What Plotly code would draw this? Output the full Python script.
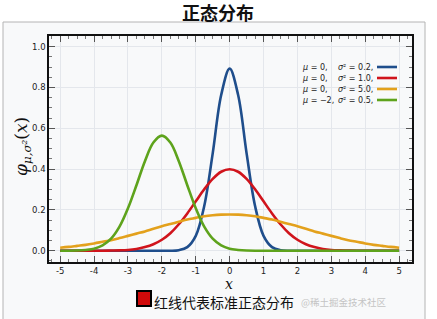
import plotly.graph_objects as go

# ---------------- data ----------------
x_vals = [-5.0, -4.75, -4.5, -4.25, -4.0, -3.75, -3.5, -3.25, -3.0, -2.75, -2.5, -2.25, -2.0,
          -1.75, -1.5, -1.25, -1.0, -0.75, -0.5, -0.25, 0.0, 0.25, 0.5, 0.75, 1.0, 1.25, 1.5,
          1.75, 2.0, 2.25, 2.5, 2.75, 3.0, 3.25, 3.5, 3.75, 4.0, 4.25, 4.5, 4.75, 5.0]

blue_vals = [0, 0, 0, 0, 0, 0, 0, 0, 0, 0, 0, 0, 0,
             0.000, 0.003, 0.018, 0.073, 0.219, 0.477, 0.763, 0.892, 0.763, 0.477, 0.219, 0.073, 0.018, 0.003,
             0.000, 0, 0, 0, 0, 0, 0, 0, 0, 0, 0, 0, 0, 0]

red_vals = [0, 0, 0, 0, 0.000, 0.000, 0.001, 0.002, 0.004, 0.009, 0.018, 0.032, 0.054,
            0.086, 0.130, 0.183, 0.242, 0.301, 0.352, 0.387, 0.399, 0.387, 0.352, 0.301, 0.242, 0.183, 0.130,
            0.086, 0.054, 0.032, 0.018, 0.009, 0.004, 0.002, 0.001, 0.000, 0.000, 0, 0, 0, 0]

orange_vals = [0.015, 0.019, 0.024, 0.029, 0.036, 0.044, 0.052, 0.062, 0.073, 0.084, 0.095, 0.108, 0.120,
               0.131, 0.142, 0.153, 0.161, 0.169, 0.174, 0.177, 0.178, 0.177, 0.174, 0.169, 0.161, 0.153, 0.142,
               0.131, 0.120, 0.108, 0.095, 0.084, 0.073, 0.062, 0.052, 0.044, 0.036, 0.029, 0.024, 0.019, 0.015]

green_vals = [0.000, 0.000, 0.001, 0.004, 0.010, 0.026, 0.059, 0.118, 0.208, 0.321, 0.439, 0.530, 0.564,
              0.530, 0.439, 0.321, 0.208, 0.118, 0.059, 0.026, 0.010, 0.004, 0.001, 0.000, 0, 0, 0,
              0, 0, 0, 0, 0, 0, 0, 0, 0, 0, 0, 0, 0, 0]

series_mu = ["0", "0", "0", "−2"]
series_var = ["0.2", "1.0", "5.0", "0.5"]
series_vals = [blue_vals, red_vals, orange_vals, green_vals]
series_colors = ["#1f4e8c", "#d0141c", "#e3a11c", "#5ea31c"]

title_text = "正态分布"
note_text = "红线代表标准正态分布"
watermark_text = "@稀土掘金技术社区"

# ---------------- figure ----------------
W, H = 437, 319
L, R, T, B = 49, 412, 36, 262  # plot area in pixels


def px_x(p):
    return (p - L) / (R - L)


def px_y(p):
    return (B - p) / (B - T)


fig = go.Figure()
for vals, col in zip(series_vals, series_colors):
    fig.add_trace(go.Scatter(x=x_vals, y=vals, mode="lines",
                             line=dict(color=col, width=2.6, shape="spline", smoothing=1.0),
                             showlegend=False, hoverinfo="skip"))

shapes = []
annotations = []

# light frame around the picture
shapes.append(dict(type="rect", xref="paper", yref="paper", layer="below",
                   x0=px_x(3), x1=px_x(425), y0=px_y(322), y1=px_y(22),
                   fillcolor="#f8f9fa", line=dict(color="#b4b4b4", width=1)))

# inner legend (text + line samples)
row_y = [67, 78, 89, 100]
for i in range(4):
    annotations.append(dict(xref="paper", yref="paper", x=px_x(300), y=px_y(row_y[i]),
                            xanchor="left", yanchor="middle", showarrow=False,
                            text="<i>μ</i> = " + series_mu[i] + ",",
                            font=dict(family="DejaVu Sans, Arial", size=8, color="#222")))
    annotations.append(dict(xref="paper", yref="paper", x=px_x(336), y=px_y(row_y[i]),
                            xanchor="left", yanchor="middle", showarrow=False,
                            text="<i>σ</i>² = " + series_var[i] + ",",
                            font=dict(family="DejaVu Sans, Arial", size=8, color="#222")))
    shapes.append(dict(type="line", xref="paper", yref="paper",
                       x0=px_x(377), x1=px_x(397), y0=px_y(row_y[i]), y1=px_y(row_y[i]),
                       line=dict(color=series_colors[i], width=2.6)))

# title
annotations.append(dict(xref="paper", yref="paper", x=px_x(218), y=px_y(12),
                        xanchor="center", yanchor="middle", showarrow=False,
                        text="<b>" + title_text + "</b>",
                        font=dict(family="Noto Sans CJK SC", size=18, color="#111")))

# axis labels
annotations.append(dict(xref="paper", yref="paper", x=px_x(22), y=px_y(147),
                        xanchor="center", yanchor="middle", showarrow=False, textangle=-90,
                        text="<i>φ<sub>μ,σ²</sub></i>(<i>x</i>)",
                        font=dict(family="DejaVu Serif", size=17, color="#111")))
annotations.append(dict(xref="paper", yref="paper", x=px_x(229), y=px_y(284),
                        xanchor="center", yanchor="middle", showarrow=False,
                        text="<i>x</i>",
                        font=dict(family="DejaVu Serif", size=14, color="#111")))

# bottom note with red square
shapes.append(dict(type="rect", xref="paper", yref="paper",
                   x0=px_x(137), x1=px_x(151), y0=px_y(306), y1=px_y(291),
                   fillcolor="#d00a0a", line=dict(color="#000", width=2)))
annotations.append(dict(xref="paper", yref="paper", x=px_x(152), y=px_y(302),
                        xanchor="left", yanchor="middle", showarrow=False,
                        text=note_text,
                        font=dict(family="Noto Sans CJK SC", size=14, color="#111")))

# watermark
annotations.append(dict(xref="paper", yref="paper", x=px_x(388), y=px_y(302),
                        xanchor="right", yanchor="middle", showarrow=False,
                        text=watermark_text,
                        font=dict(family="Noto Sans CJK SC", size=9.5, color="#c4c4c4")))

axis_common = dict(showline=True, linecolor="#111", linewidth=1.5, mirror="ticks",
                   ticks="inside", tickcolor="#555", tickwidth=1, zeroline=False,
                   showgrid=True, gridcolor="#e4e7ec", gridwidth=1,
                   tickfont=dict(family="DejaVu Sans, Arial", size=8.5, color="#222"))

fig.update_layout(
    width=W, height=H,
    margin=dict(l=L, r=W - R, t=T, b=H - B, pad=0),
    paper_bgcolor="white",
    plot_bgcolor="#f8f9fa",
    showlegend=False,
    shapes=shapes,
    annotations=annotations,
    xaxis=dict(range=[-5.33, 5.38], tickvals=[-5, -4, -3, -2, -1, 0, 1, 2, 3, 4, 5],
               ticktext=["-5", "-4", "-3", "-2", "-1", "0", "1", "2", "3", "4", "5"],
               ticklen=6, minor=dict(dtick=0.25, tick0=0, ticklen=3, ticks="inside",
                                     tickcolor="#777", showgrid=False),
               **axis_common),
    yaxis=dict(range=[-0.055, 1.052], tickvals=[0, 0.2, 0.4, 0.6, 0.8, 1.0],
               ticktext=["0.0", "0.2", "0.4", "0.6", "0.8", "1.0"],
               ticklen=6, minor=dict(dtick=0.05, tick0=0, ticklen=3, ticks="inside",
                                     tickcolor="#777", showgrid=False),
               **axis_common),
)

fig.write_html("out.html")
